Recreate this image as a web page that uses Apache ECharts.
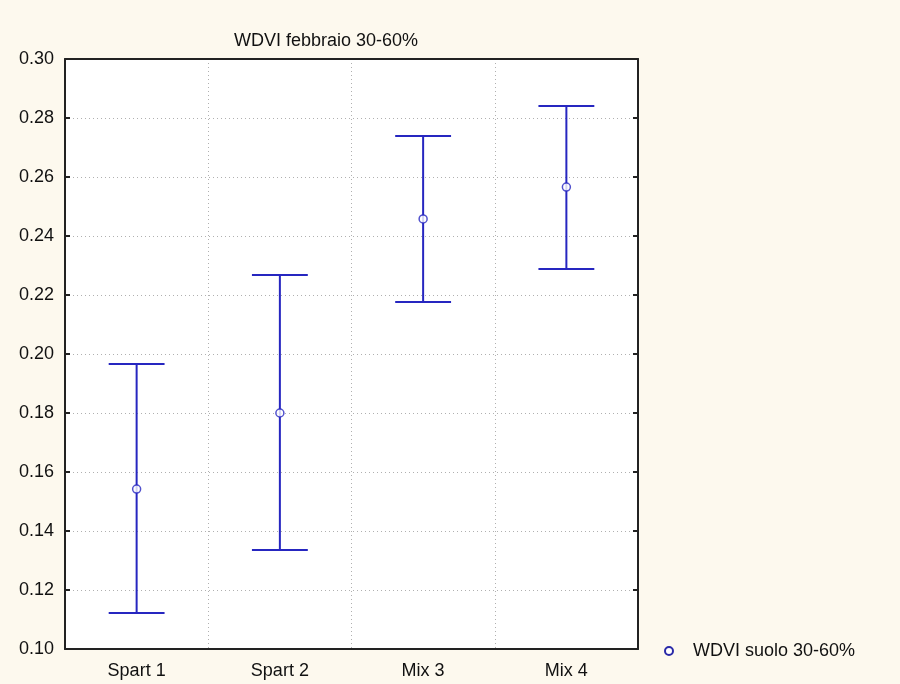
<!DOCTYPE html>
<html>
<head>
<meta charset="utf-8">
<script src="https://cdn.jsdelivr.net/npm/echarts@6/dist/echarts.min.js"></script>
<style>
html,body{margin:0;padding:0;background:#fdf9ee;}
#chart{width:900px;height:684px;}
</style>
</head>
<body>
<div id="chart"></div>
<script>
var categories = ['Spart 1', 'Spart 2', 'Mix 3', 'Mix 4'];
var means = [0.1542, 0.1800, 0.2458, 0.2566];
var lows  = [0.1122, 0.1336, 0.2176, 0.2288];
var highs = [0.1966, 0.2268, 0.2739, 0.2841];
var yTicks = [0.10, 0.12, 0.14, 0.16, 0.18, 0.20, 0.22, 0.24, 0.26, 0.28, 0.30];
var seriesName = 'WDVI suolo 30-60%';
var titleText = 'WDVI febbraio 30-60%';

var blue = '#2626c0';
var font = 'Liberation Sans, Arial, sans-serif';

var errData = categories.map(function (c, i) { return [i, lows[i], highs[i]]; });
var meanData = categories.map(function (c, i) { return [i, means[i]]; });

var chart = echarts.init(document.getElementById('chart'));
chart.setOption({
  backgroundColor: '#fdf9ee',
  animation: false,
  color: [blue],
  title: {
    text: titleText, left: 229, top: 27,
    textStyle: { fontFamily: font, fontSize: 18, fontWeight: 'normal', color: '#111' }
  },
  legend: {
    data: [{ name: seriesName, icon: 'emptyCircle', itemStyle: { color: '#2a2aa8', borderWidth: 1.5 } }],
    left: 659, top: 637, itemWidth: 8, itemHeight: 8,
    textStyle: { fontFamily: font, fontSize: 18, color: '#111', padding: [0, 0, 0, 15] }
  },
  grid: { left: 65, right: 262, top: 59, bottom: 35, show: true, backgroundColor: '#ffffff', borderWidth: 0 },
  xAxis: [{
    type: 'category', data: categories, boundaryGap: true, position: 'bottom',
    axisLine: { lineStyle: { color: '#222', width: 2 } },
    axisTick: { inside: true, length: 5, lineStyle: { color: '#222', width: 2 } },
    axisLabel: { fontFamily: font, fontSize: 18, color: '#111', margin: 13 },
    splitLine: { show: true, lineStyle: { color: '#b0b0b0', type: [1, 3], width: 1 } }
  }, {
    type: 'category', data: categories, boundaryGap: true, position: 'top',
    axisLine: { lineStyle: { color: '#222', width: 2 } },
    axisTick: { inside: true, length: 5, lineStyle: { color: '#222', width: 2 } },
    axisLabel: { show: false }, splitLine: { show: false }
  }],
  yAxis: [{
    type: 'value', min: 0.10, max: 0.30, interval: 0.02, position: 'left',
    axisLine: { show: true, lineStyle: { color: '#222', width: 2 } },
    axisTick: { show: true, inside: true, length: 5, lineStyle: { color: '#222', width: 2 } },
    axisLabel: { fontFamily: font, fontSize: 18, color: '#111', margin: 11,
      formatter: function (v) { return v.toFixed(2); } },
    splitLine: { show: true, lineStyle: { color: '#b0b0b0', type: [1, 3], width: 1 } }
  }, {
    type: 'value', min: 0.10, max: 0.30, interval: 0.02, position: 'right',
    axisLine: { show: true, lineStyle: { color: '#222', width: 2 } },
    axisTick: { show: true, inside: true, length: 5, lineStyle: { color: '#222', width: 2 } },
    axisLabel: { show: false }, splitLine: { show: false }
  }],
  series: [{
    name: seriesName, type: 'custom', xAxisIndex: 0, yAxisIndex: 0,
    data: errData, z: 3, itemStyle: { color: blue },
    renderItem: function (params, api) {
      var x = api.value(0);
      var pl = api.coord([x, api.value(1)]);
      var ph = api.coord([x, api.value(2)]);
      var half = api.size([1, 0])[0] * 0.195;
      var st = { stroke: blue, lineWidth: 2 };
      return {
        type: 'group',
        children: [
          { type: 'line', shape: { x1: pl[0], y1: pl[1], x2: ph[0], y2: ph[1] }, style: st },
          { type: 'line', shape: { x1: pl[0] - half, y1: pl[1], x2: pl[0] + half, y2: pl[1] }, style: st },
          { type: 'line', shape: { x1: ph[0] - half, y1: ph[1], x2: ph[0] + half, y2: ph[1] }, style: st }
        ]
      };
    }
  }, {
    name: seriesName, type: 'scatter', xAxisIndex: 0, yAxisIndex: 0,
    data: meanData, symbol: 'circle', symbolSize: 8, z: 5,
    itemStyle: { color: '#ffffff', borderColor: blue, borderWidth: 1.5 }
  }]
});
</script>
</body>
</html>
